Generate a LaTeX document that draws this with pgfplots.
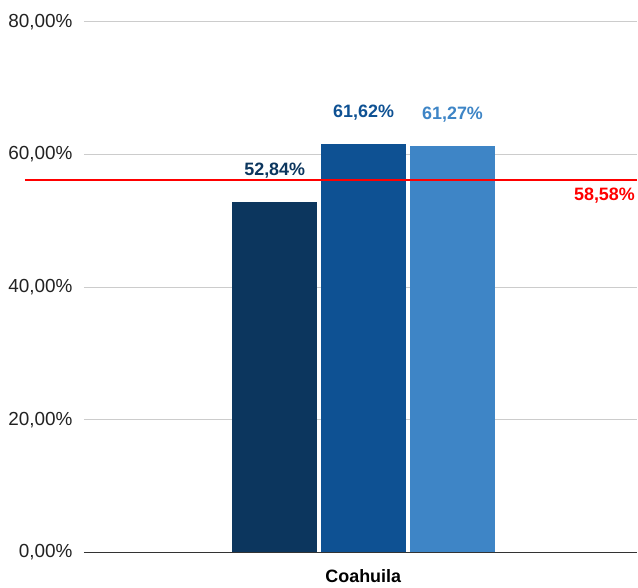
\documentclass[border=0pt]{standalone}
\usepackage{pgfplots}
\pgfplotsset{compat=1.18}
\usepackage{fontspec}
\setmainfont{Liberation Sans}

\definecolor{barA}{HTML}{0C365E}
\definecolor{barB}{HTML}{0E5193}
\definecolor{barC}{HTML}{3E85C6}
\definecolor{gridc}{HTML}{CCCCCC}
\definecolor{axisc}{HTML}{333333}
\definecolor{tickc}{HTML}{222222}

\pgfplotsset{
  barlabel/.style={
    nodes near coords={\textbf{\pgfmathprintnumber[fixed,fixed zerofill,precision=2,use comma]{\pgfplotspointmeta}\%}},
    nodes near coords style={font=\fontsize{18}{22}\selectfont, anchor=south, yshift=20bp, text=#1},
  },
}

\begin{document}
\begin{tikzpicture}[x=1bp,y=1bp]
\path (-84bp,-35bp) rectangle (554bp,553bp);
\begin{axis}[
    at={(0,0)}, anchor=south west,
    scale only axis,
    width=554bp, height=531bp,
    xmin=-1, xmax=1,
    ymin=0, ymax=80,
    ytick={0,20,40,60,80},
    xtick={0.01},
    xticklabels={\textbf{Coahuila}},
    major tick length=0pt,
    ymajorgrids,
    grid style={gridc, line width=1bp},
    axis x line*=bottom,
    axis y line*=left,
    x axis line style={draw=axisc, line width=1.5bp, -},
    y axis line style={draw=none},
    /pgf/number format/assume math mode=true,
    yticklabel={\pgfmathprintnumber[fixed,fixed zerofill,precision=2,use comma]{\tick}\%},
    yticklabel style={font=\fontsize{19}{22}\selectfont, text=tickc, anchor=east, xshift=-8bp},
    xticklabel style={font=\fontsize{18}{20}\selectfont, text=black, anchor=north, inner sep=0pt, yshift=-17bp},
    clip=false,
]
\addplot[ybar, draw=none, bar width=85bp, bar shift=-89bp, fill=barA, barlabel=barA,
    nodes near coords style={xshift=-89bp}]
    coordinates {(0.011,52.84)};
\addplot[ybar, draw=none, bar width=85bp, bar shift=0bp, fill=barB, barlabel=barB]
    coordinates {(0.011,61.62)};
\addplot[ybar, draw=none, bar width=85bp, bar shift=89bp, fill=barC, barlabel=barC,
    nodes near coords style={xshift=89bp}]
    coordinates {(0.011,61.27)};
\addplot[sharp plot, draw=red, line width=1.5bp, no marks]
    coordinates {(-1.213,56.2) (1,56.2)};
\node[anchor=north east, text=red, font=\bfseries\fontsize{18}{22}\selectfont, inner sep=0pt]
    at (rel axis cs:0.996,0.688) {58,58\%};
\end{axis}
\end{tikzpicture}
\end{document}
